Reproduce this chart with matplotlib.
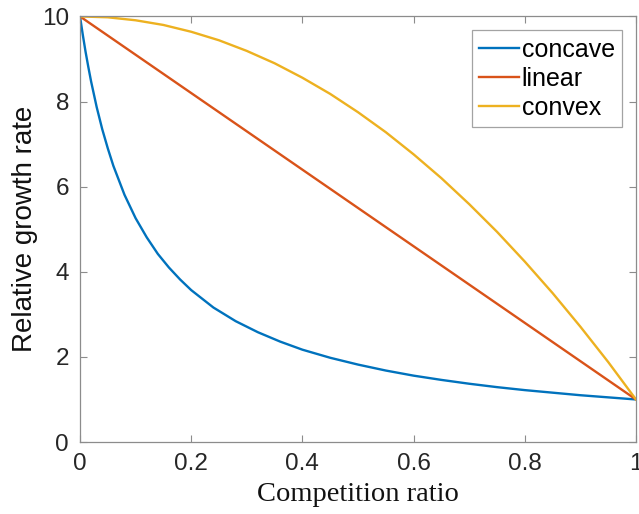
import numpy as np
import matplotlib.pyplot as plt

# competition ratio samples and relative growth rates for each response shape
x_concave = [0, 0.005, 0.01, 0.015, 0.02, 0.03, 0.04, 0.05, 0.06, 0.08, 0.10,
             0.12, 0.14, 0.16, 0.18, 0.20, 0.24, 0.28, 0.32, 0.36, 0.40, 0.45,
             0.50, 0.55, 0.60, 0.65, 0.70, 0.75, 0.80, 0.85, 0.90, 0.95, 1.00]
y_concave = [10, 9.57, 9.17, 8.81, 8.47, 7.87, 7.35, 6.90, 6.49, 5.81, 5.26,
             4.81, 4.42, 4.10, 3.82, 3.57, 3.16, 2.84, 2.58, 2.36, 2.17, 1.98,
             1.82, 1.68, 1.56, 1.46, 1.37, 1.29, 1.22, 1.16, 1.10, 1.05, 1.00]

x_linear = [0, 1]
y_linear = [10, 1]

x_convex = [0, 0.05, 0.10, 0.15, 0.20, 0.25, 0.30, 0.35, 0.40, 0.45, 0.50,
            0.55, 0.60, 0.65, 0.70, 0.75, 0.80, 0.85, 0.90, 0.95, 1.00]
y_convex = [10, 9.98, 9.91, 9.80, 9.64, 9.44, 9.19, 8.90, 8.56, 8.18, 7.75,
            7.28, 6.76, 6.20, 5.59, 4.94, 4.24, 3.50, 2.71, 1.88, 1.00]

xticks = [0, 0.2, 0.4, 0.6, 0.8, 1]
xtick_labels = ['0', '0.2', '0.4', '0.6', '0.8', '1']
yticks = [0, 2, 4, 6, 8, 10]

plt.rcParams['font.family'] = ['Liberation Sans', 'DejaVu Sans']

fig = plt.figure(figsize=(6.39, 5.14), dpi=100)
ax = fig.add_axes([0.1252, 0.140, 0.8701, 0.828])

ax.plot(x_concave, y_concave, color='#0072BD', lw=1.7, label='concave')
ax.plot(x_linear, y_linear, color='#D95319', lw=1.7, label='linear')
ax.plot(x_convex, y_convex, color='#EDB120', lw=1.7, label='convex')

ax.set_xlim(0, 1)
ax.set_ylim(0, 10)
ax.set_xticks(xticks)
ax.set_xticklabels(xtick_labels)
ax.set_yticks(yticks)

for s in ax.spines.values():
    s.set_color('#8c8c8c')
    s.set_linewidth(0.9)
ax.tick_params(direction='in', length=5, width=0.8, color='#8c8c8c',
               top=True, right=True, labelsize=17.5, labelcolor='#262626', pad=8)

ax.set_xlabel('Competition ratio', family='Liberation Serif', fontsize=20.5,
              color='#111111', labelpad=5)
ax.set_ylabel('Relative growth rate', fontsize=20, color='#111111', labelpad=3)

leg = ax.legend(loc='upper right', fontsize=18, frameon=True, fancybox=False,
                handlelength=1.6, handletextpad=0.1, borderpad=0.3,
                labelspacing=0.2, borderaxespad=0.55)
leg.get_frame().set_edgecolor('#8c8c8c')
leg.get_frame().set_linewidth(0.9)

fig.savefig('out.png', dpi=100)
